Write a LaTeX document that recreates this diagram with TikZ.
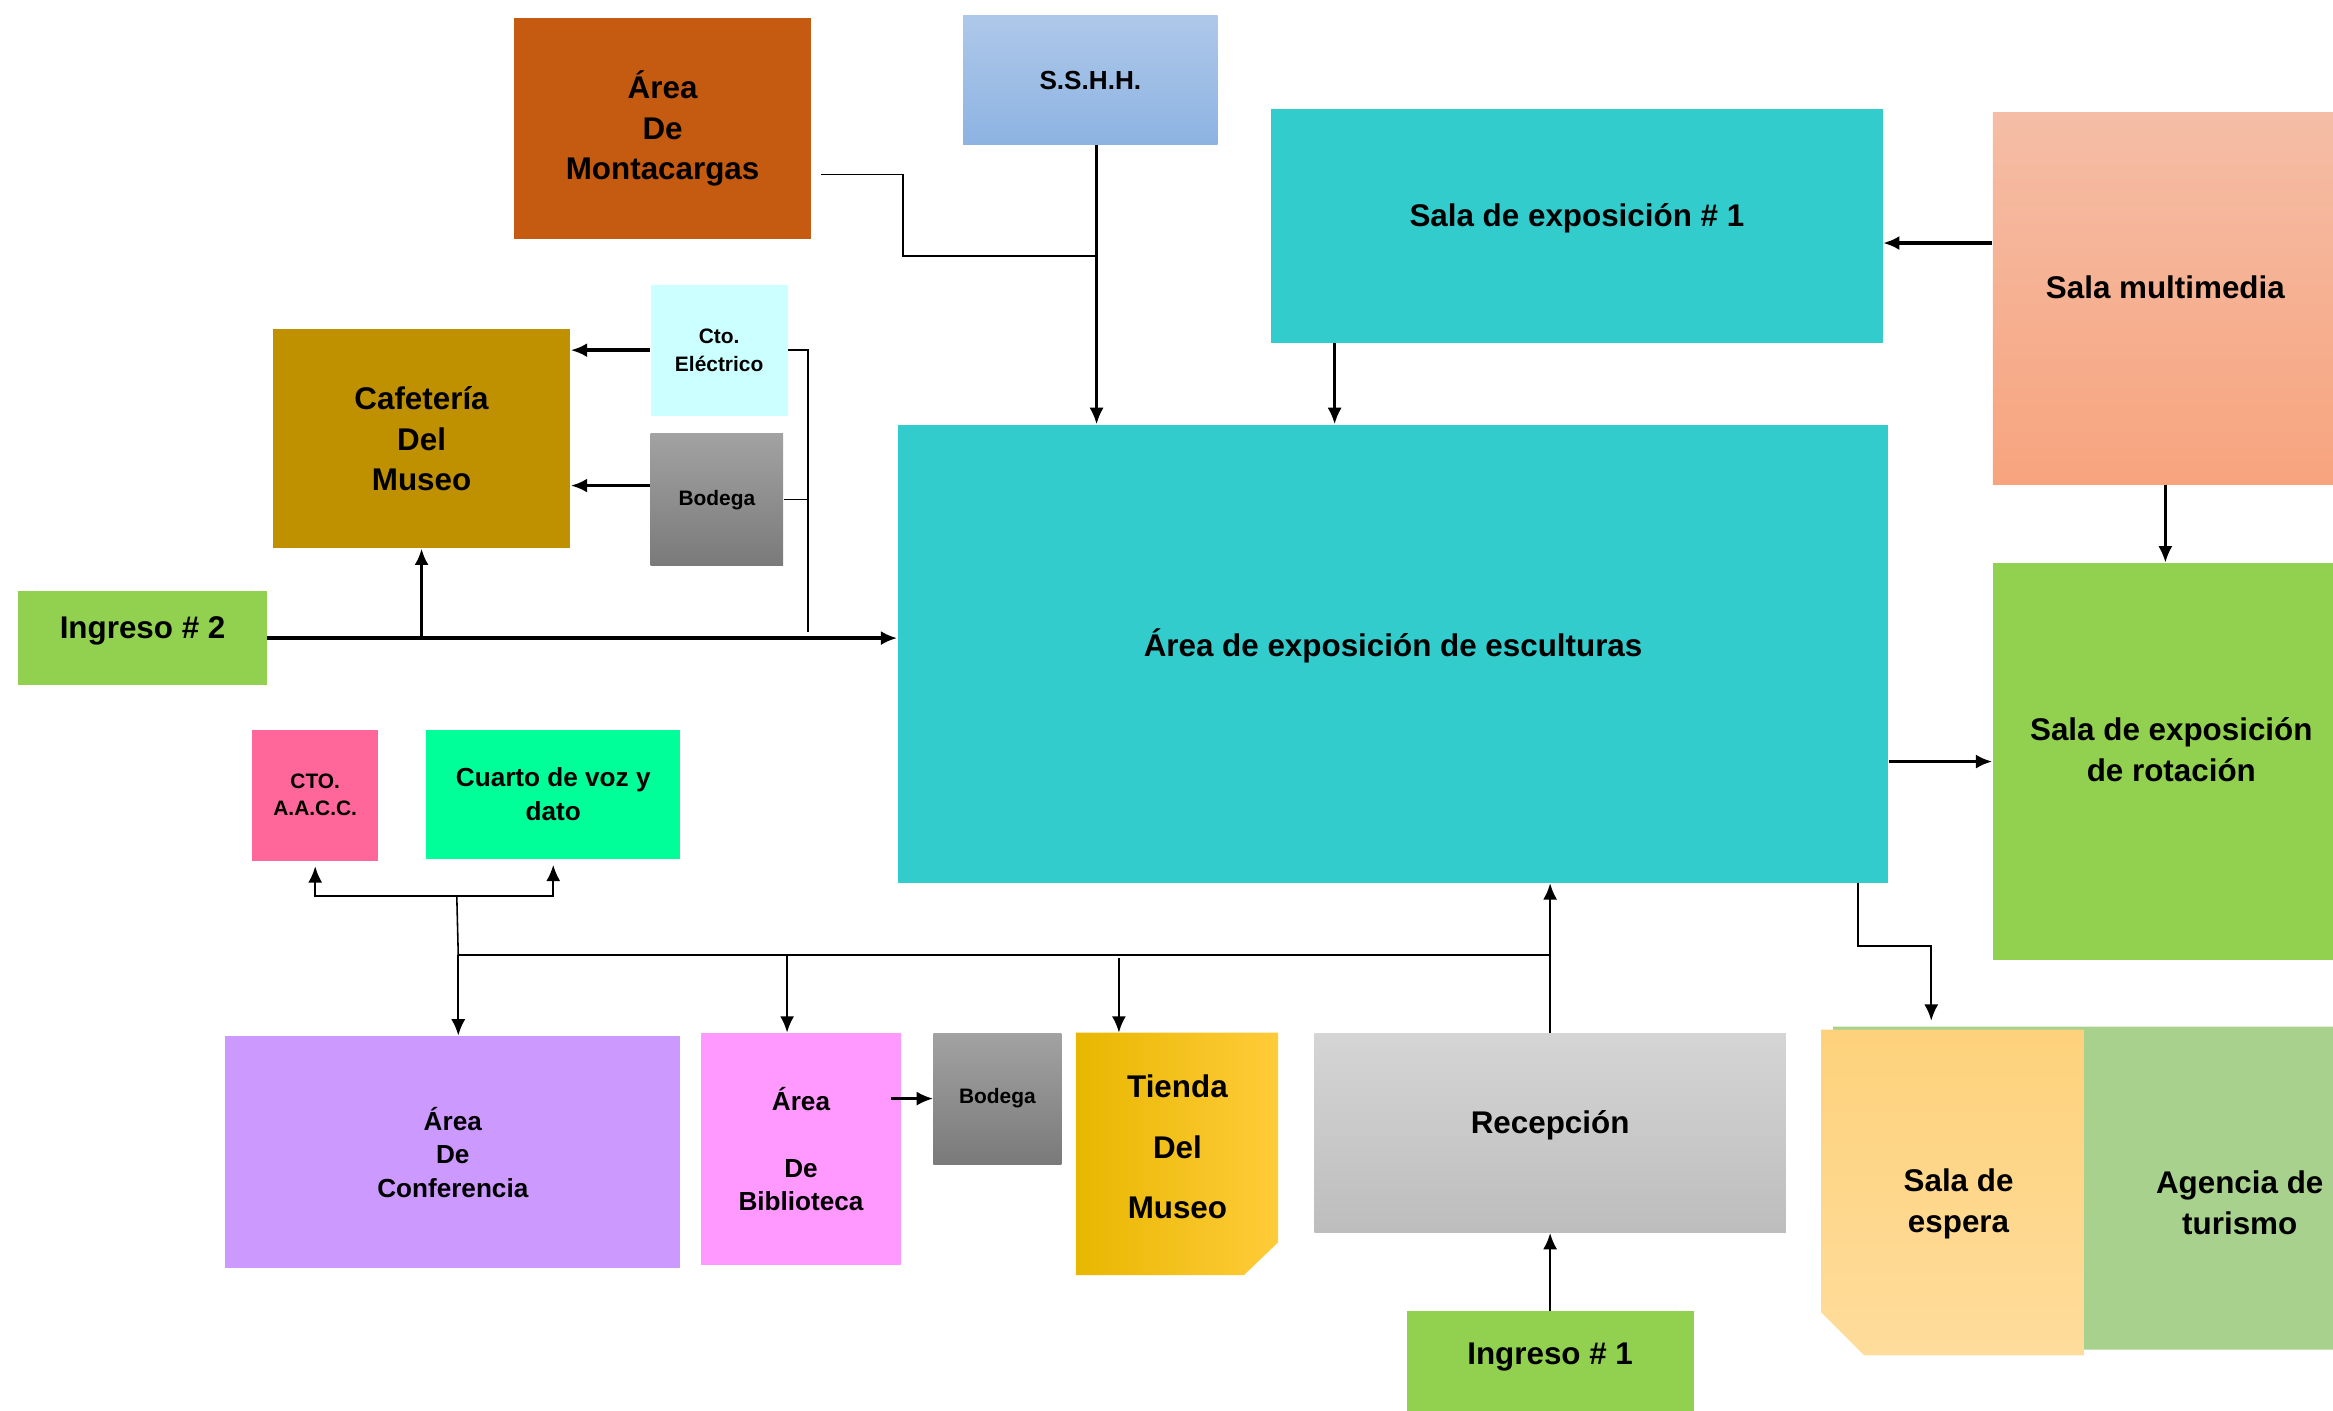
\documentclass[tikz,border=0pt]{standalone}
\usepackage{fontspec}
\setmainfont{Liberation Sans}
\usetikzlibrary{arrows.meta}
\definecolor{MuseoRust}{HTML}{C55A11}
\definecolor{MuseoTeal}{HTML}{33CCCC}
\definecolor{MuseoGold}{HTML}{BF9000}
\definecolor{MuseoIce}{HTML}{CCFFFF}
\definecolor{MuseoGreen}{HTML}{92D050}
\definecolor{MuseoPink}{HTML}{FF6699}
\definecolor{MuseoMint}{HTML}{00FF99}
\definecolor{MuseoLilac}{HTML}{CC99FF}
\definecolor{MuseoOrchid}{HTML}{FF99FF}
\definecolor{MuseoSage}{HTML}{A9D18E}
\definecolor{SandTop}{HTML}{FED27C}
\definecolor{SandBottom}{HTML}{FEDC9B}
\definecolor{SkyTop}{HTML}{AEC8E9}
\definecolor{SkyBottom}{HTML}{8DB3E2}
\definecolor{SalmonTop}{HTML}{F5BDA6}
\definecolor{SalmonBottom}{HTML}{F7A47E}
\definecolor{StoneTop}{HTML}{A2A2A2}
\definecolor{StoneBottom}{HTML}{7A7A7A}
\definecolor{MistTop}{HTML}{D5D5D5}
\definecolor{MistBottom}{HTML}{BDBDBD}
\definecolor{AmberLeft}{HTML}{E8B700}
\definecolor{AmberMid}{HTML}{FFC400}
\definecolor{AmberRight}{HTML}{FFCC3A}

\begin{document}
\begin{tikzpicture}[x=0.02cm,y=-0.02cm,
    >={Latex[length=2.2mm,width=1.9mm]},
    room/.style={anchor=north west,inner sep=0pt,align=center,
      font=\bfseries\fontsize{12}{15.6}\selectfont},
    roommid/.style={room,font=\bfseries\fontsize{10}{12.8}\selectfont},
    roomsmall/.style={room,font=\bfseries\fontsize{8}{10.5}\selectfont},
    lift/.style={text depth=#1},
    link/.style={line width=0.6pt},
    flow/.style={->,line width=0.9pt},
    bigflow/.style={->,line width=1.3pt}]
      \path[use as bounding box,clip] (0,0) rectangle (1568,948);

      % ambientes
      \node[room,fill=MuseoRust,minimum width=4cm,minimum height=2.96cm] (mont) at (345,12) {Área\\De\\Montacargas};
      \node[roommid,top color=SkyTop,bottom color=SkyBottom,minimum width=3.42cm,minimum height=1.74cm] (sshh) at (647,10) {S.S.H.H.};
      \node[room,lift=8.2pt,fill=MuseoTeal,minimum width=8.22cm,minimum height=3.14cm] (salaA) at (854,73) {Sala de exposición \# 1};
      \node[room,lift=8pt,top color=SalmonTop,bottom color=SalmonBottom,minimum width=4.64cm,minimum height=5cm] (multi) at (1339,75) {Sala multimedia};
      \node[room,fill=MuseoGold,minimum width=4cm,minimum height=2.94cm] (cafe) at (183,221) {Cafetería\\Del\\Museo};
      \node[roomsmall,fill=MuseoIce,minimum width=1.84cm,minimum height=1.76cm] (elec) at (437,191) {Cto.\\Eléctrico};
      \node[roomsmall,top color=StoneTop,bottom color=StoneBottom,minimum width=1.78cm,minimum height=1.78cm] (bodA) at (437,291) {Bodega};
      \node[room,lift=8.2pt,fill=MuseoGreen,minimum width=3.34cm,minimum height=1.26cm] (ing2) at (12,397) {Ingreso \# 2};
      \node[room,lift=8.2pt,fill=MuseoTeal,minimum width=13.32cm,minimum height=6.16cm] (escul) at (603,285) {Área de exposición de esculturas};
      \node[room,lift=9pt,fill=MuseoGreen,minimum width=4.8cm,minimum height=5.34cm] (rot) at (1339,378) {Sala de exposición\\de rotación};
      \node[roomsmall,fill=MuseoPink,minimum width=1.7cm,minimum height=1.76cm] (aacc) at (169,490) {CTO.\\A.A.C.C.};
      \node[roommid,fill=MuseoMint,minimum width=3.42cm,minimum height=1.74cm] (voz) at (286,490) {Cuarto de voz y\\dato};
      \node[roommid,fill=MuseoLilac,minimum width=6.12cm,minimum height=3.12cm] (conf) at (151,696) {Área\\De\\Conferencia};
      \node[roommid,fill=MuseoOrchid,minimum width=2.68cm,minimum height=3.12cm] (bibl) at (471,694) {Área\\[12.8pt]De\\Biblioteca};
      \node[roomsmall,top color=StoneTop,bottom color=StoneBottom,minimum width=1.72cm,minimum height=1.76cm] (bodB) at (627,694) {Bodega};
      \shade[left color=AmberLeft,middle color=AmberMid,right color=AmberRight] (723,694) -- (859,694) -- (859,835) -- (836,857) -- (723,857) -- cycle;
      \node[room,lift=5.7pt,font=\bfseries\fontsize{12}{23.2}\selectfont,minimum width=2.72cm,minimum height=3.26cm] (tienda) at (723,694) {Tienda\\Del\\Museo};
      \node[room,lift=8.2pt,top color=MistTop,bottom color=MistBottom,minimum width=6.34cm,minimum height=2.68cm] (recep) at (883,694) {Recepción};
      \node[room,lift=6pt,fill=MuseoGreen,minimum width=3.86cm,minimum height=1.34cm] (ing1) at (945,881) {Ingreso \# 1};
      \fill[MuseoSage] (1232,690) -- (1578,690) -- (1578,907) -- (1258,907) -- (1232,880) -- cycle;
      \node[room,minimum width=10.92cm,minimum height=4.72cm] (agencia) at (1232,690) {Agencia de\\turismo};
      \shade[top color=SandTop,bottom color=SandBottom] (1224,692) -- (1401,692) -- (1401,911) -- (1253,911) -- (1224,882) -- cycle;
      \node[room,minimum width=3.68cm,minimum height=4.68cm] (espera) at (1224,692) {Sala de\\espera};

      % puntos de union
      \coordinate (jmont) at (607,172);
      \coordinate (jsshh) at (737,172);
      \coordinate (jbus) at (543,425);
      \coordinate (jesp) at (1298,636);
      \coordinate (jc) at (308,642);
      \coordinate (jb) at (529,642);
      \coordinate (jt) at (752,644);
      \coordinate (jup) at (307,602);

      % conexiones
      \draw[link] ([xshift=0.12cm,yshift=-0.62cm]mont.east) -| (jmont) -- (jsshh);
      \draw[flow] (sshh.south -| jsshh) -- (jsshh) -- (jsshh |- escul.north);
      \draw[flow] ([xshift=0.86cm]salaA.south west) -- ([xshift=0.86cm]salaA.south west |- escul.north);
      \draw[bigflow] ([yshift=-0.23cm]salaA.east -| multi.west) -- ([yshift=-0.23cm]salaA.east);
      \draw[flow] (multi.south) -- (multi.south |- rot.north);
      \draw[bigflow] (escul.east |- rot.west) -- (rot.west);
      \draw[flow,shorten >=0.12cm] ([xshift=-0.42cm]escul.south east) |- (jesp) -- (jesp |- espera.north);
      \draw[bigflow] (elec.west) -- (elec.west -| cafe.east);
      \draw[bigflow] ([yshift=0.19cm]bodA.west) -- ([yshift=0.19cm]bodA.west -| cafe.east);
      \draw[link] (elec.east) -| (jbus);
      \draw[link] (bodA.east) -- (bodA.east -| jbus);
      \draw[bigflow] (ing2.east) -- (ing2.east -| escul.west);
      \draw[bigflow] (cafe.south |- ing2.east) -- (cafe.south);
      \draw[flow] (recep.north) -- (recep.north |- escul.south);
      \draw[link] (jc) -- (recep.north |- jc);
      \draw[flow] (jc) -- (jc |- conf.north);
      \draw[flow] (jb) -- (jb |- bibl.north);
      \draw[flow] (jt) -- (jt |- tienda.north);
      \draw[link] (jc) -- (jup);
      \draw[flow,<->,shorten <=2pt,shorten >=2pt] (aacc.south) |- (jup) -| (voz.south);
      \draw[flow] ([xshift=-0.14cm]bibl.east |- bodB.west) -- (bodB.west);
      \draw[flow] (ing1.north) -- (ing1.north |- recep.south);
    \end{tikzpicture}
\end{document}
